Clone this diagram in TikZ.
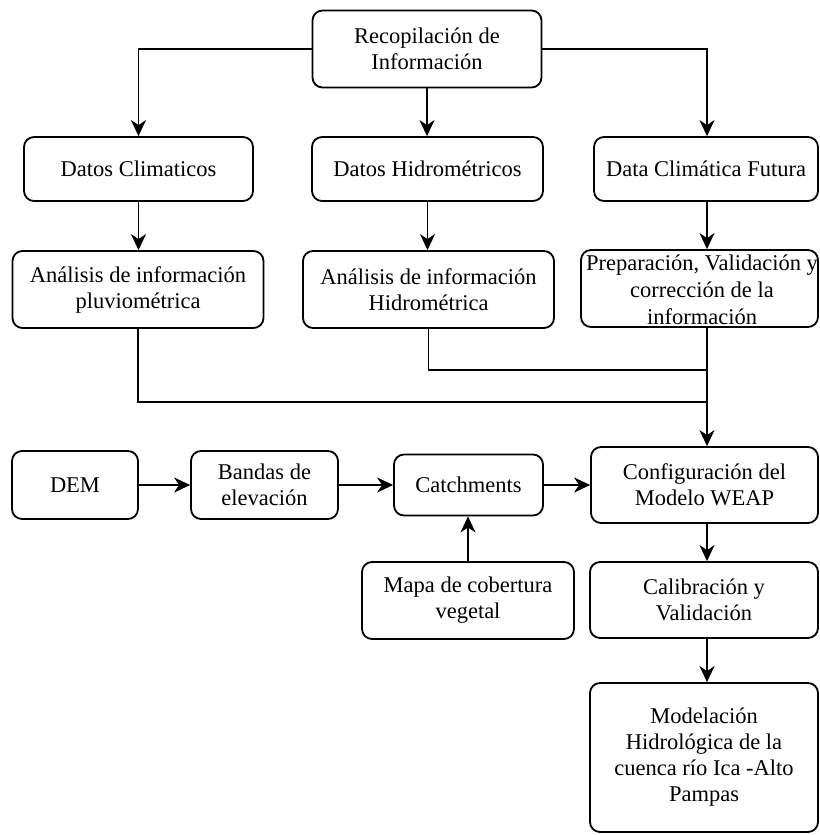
\documentclass[tikz,border=0pt]{standalone}
\usepackage{fontspec}
\setmainfont{Liberation Serif}
\usetikzlibrary{arrows.meta}
\begin{document}
\begin{tikzpicture}[x=1pt,y=-1pt,
  box/.style={draw, rounded corners=10pt, line width=1.8pt, align=center,
    inner sep=0pt, font=\fontsize{22.5}{26}\selectfont},
  conn/.style={line width=1.8pt},
  arr/.style={conn, -{Stealth[length=16pt,width=15pt,inset=5pt]}}]
\useasboundingbox (0,0) rectangle (819,835);
\node[box, minimum width=229pt, minimum height=77pt] (rec) at (427,49) {Recopilación de\\Información};
\node[box, minimum width=229pt, minimum height=64pt] (dc) at (138.5,169) {Datos Climaticos};
\node[box, minimum width=231pt, minimum height=64pt] (dh) at (427.5,169) {Datos Hidrométricos};
\node[box, minimum width=224pt, minimum height=64pt] (dcf) at (706,169) {Data Climática Futura};
\node[box, minimum width=251pt, minimum height=77pt] (ap) at (138,289.5) {Análisis de información\\pluviométrica};
\node[box, minimum width=251pt, minimum height=77pt] (ah) at (428.5,289.5) {Análisis de información\\Hidrométrica};
\node[draw, rounded corners=10pt, line width=1.8pt, minimum width=237pt, minimum height=77pt] (prep) at (699.5,288.5) {};
\node[align=center, inner sep=0pt, font=\fontsize{22.5}{27}\selectfont] (preptxt) at (702,290) {Preparación, Validación y\\corrección de la\\información};
\node[box, minimum width=126pt, minimum height=68pt] (dem) at (75,485) {DEM};
\node[box, minimum width=147pt, minimum height=68pt] (bandas) at (264.5,485) {Bandas de\\elevación};
\node[box, minimum width=149pt, minimum height=61pt] (catch) at (468.5,485) {Catchments};
\node[box, minimum width=227pt, minimum height=76pt] (config) at (704.5,485) {Configuración del\\Modelo WEAP};
\node[box, minimum width=212pt, minimum height=77pt] (mapa) at (468,600.5) {Mapa de cobertura\\vegetal};
\node[box, minimum width=228pt, minimum height=76pt] (calib) at (704,600) {Calibración y\\Validación};
\node[box, minimum width=228pt, minimum height=149pt] (model) at (704,757.5) {Modelación\\Hidrológica de la\\cuenca río Ica -Alto\\Pampas};
\coordinate (cx) at (707,0);
\coordinate (jp) at (707,402);
\coordinate (jh) at (707,370);
% connectors
\draw[arr] (rec.west) -| (dc.north);
\draw[arr] (rec.south) -- (rec.south |- dh.north);
\draw[arr] (rec.east) -| (cx |- dcf.north);
\draw[arr] (dc.south) -- (dc.south |- ap.north);
\draw[arr] (dh.south) -- (dh.south |- ah.north);
\draw[arr] (cx |- dcf.south) -- (cx |- prep.north);
\draw[conn] (ap.south) |- (jp);
\draw[conn] (ah.south) |- (jh);
\draw[arr] (cx |- prep.south) -- (cx |- config.north);
\draw[arr] (dem.east) -- (bandas.west);
\draw[arr] (bandas.east) -- (catch.west);
\draw[arr] (catch.east) -- (catch.east -| config.west);
\draw[arr] (mapa.north) -- (mapa.north |- catch.south);
\draw[arr] (cx |- config.south) -- (cx |- calib.north);
\draw[arr] (cx |- calib.south) -- (cx |- model.north);
\end{tikzpicture}
\end{document}
